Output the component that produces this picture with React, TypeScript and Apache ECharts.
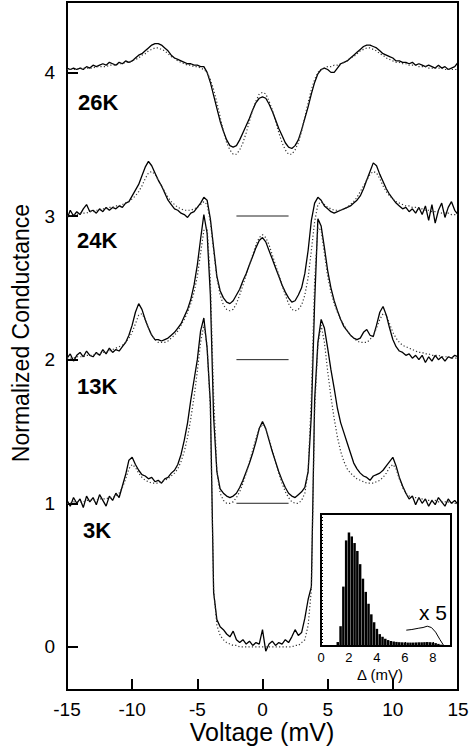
import React, { useEffect, useRef } from "react";
import * as echarts from "echarts";

// ---------- data ----------
const VOLTAGE = [
  -15, -14.75, -14.5, -14.25, -14, -13.75, -13.5, -13.25, -13, -12.75, -12.5, -12.25,
  -12, -11.75, -11.5, -11.25, -11, -10.75, -10.5, -10.25, -10, -9.75, -9.5, -9.25,
  -9, -8.75, -8.5, -8.25, -8, -7.75, -7.5, -7.25, -7, -6.75, -6.5, -6.25,
  -6, -5.75, -5.5, -5.25, -5, -4.75, -4.5, -4.25, -4, -3.75, -3.5, -3.25,
  -3, -2.75, -2.5, -2.25, -2, -1.75, -1.5, -1.25, -1, -0.75, -0.5, -0.25,
  0, 0.25, 0.5, 0.75, 1, 1.25, 1.5, 1.75, 2, 2.25, 2.5, 2.75,
  3, 3.25, 3.5, 3.75, 4, 4.25, 4.5, 4.75, 5, 5.25, 5.5, 5.75,
  6, 6.25, 6.5, 6.75, 7, 7.25, 7.5, 7.75, 8, 8.25, 8.5, 8.75,
  9, 9.25, 9.5, 9.75, 10, 10.25, 10.5, 10.75, 11, 11.25, 11.5, 11.75,
  12, 12.25, 12.5, 12.75, 13, 13.25, 13.5, 13.75, 14, 14.25, 14.5, 14.75, 15,
];

// 26K (offset +3)
const G26_EXP = [
  4.03, 4.02, 4.03, 4.02, 4.03, 4.02, 4.04, 4.03, 4.05, 4.04, 4.05, 4.06,
  4.05, 4.07, 4.06, 4.05, 4.07, 4.06, 4.08, 4.07, 4.08, 4.10, 4.12, 4.13,
  4.15, 4.17, 4.19, 4.20, 4.20, 4.19, 4.17, 4.15, 4.12, 4.10, 4.09, 4.08,
  4.07, 4.06, 4.06, 4.05, 4.05, 4.04, 4.04, 4.00, 3.93, 3.84, 3.75, 3.66,
  3.59, 3.53, 3.49, 3.48, 3.49, 3.53, 3.58, 3.63, 3.68, 3.74, 3.79, 3.82,
  3.83, 3.82, 3.78, 3.73, 3.67, 3.61, 3.56, 3.51, 3.48, 3.47, 3.49, 3.53,
  3.60, 3.68, 3.76, 3.85, 3.93, 3.99, 4.02, 4.03, 4.02, 4.00, 4.00, 4.03,
  4.06, 4.07, 4.08, 4.10, 4.12, 4.14, 4.16, 4.18, 4.19, 4.19, 4.18, 4.17,
  4.15, 4.13, 4.12, 4.11, 4.10, 4.08, 4.08, 4.07, 4.07, 4.06, 4.07, 4.05,
  4.06, 4.05, 4.04, 4.05, 4.04, 4.03, 4.05, 4.03, 4.04, 4.02, 4.03, 4.04, 4.07,
];
const G26_FIT = [
  4.02, 4.02, 4.02, 4.02, 4.03, 4.03, 4.03, 4.03, 4.03, 4.04, 4.04, 4.04,
  4.04, 4.05, 4.05, 4.05, 4.06, 4.06, 4.07, 4.07, 4.08, 4.09, 4.10, 4.12,
  4.13, 4.15, 4.16, 4.17, 4.17, 4.16, 4.15, 4.13, 4.11, 4.10, 4.08, 4.07,
  4.06, 4.05, 4.05, 4.04, 4.04, 4.03, 4.02, 4.00, 3.95, 3.88, 3.79, 3.69,
  3.59, 3.51, 3.46, 3.43, 3.43, 3.46, 3.51, 3.58, 3.66, 3.74, 3.80, 3.85,
  3.86, 3.85, 3.80, 3.74, 3.66, 3.58, 3.51, 3.46, 3.43, 3.43, 3.46, 3.51,
  3.59, 3.69, 3.79, 3.88, 3.95, 4.00, 4.02, 4.03, 4.04, 4.04, 4.05, 4.05,
  4.06, 4.07, 4.08, 4.10, 4.11, 4.13, 4.15, 4.16, 4.17, 4.17, 4.16, 4.15,
  4.13, 4.12, 4.10, 4.09, 4.08, 4.07, 4.07, 4.06, 4.06, 4.05, 4.05, 4.05,
  4.04, 4.04, 4.04, 4.03, 4.03, 4.03, 4.03, 4.03, 4.02, 4.02, 4.02, 4.02, 4.02,
];

// 24K (offset +2)
const G24_EXP = [
  2.98, 3.04, 3.00, 3.03, 3.01, 3.05, 3.08, 3.03, 3.04, 3.02, 3.05, 3.03,
  3.06, 3.04, 3.06, 3.05, 3.07, 3.06, 3.09, 3.10, 3.14, 3.18, 3.22, 3.28,
  3.34, 3.38, 3.35, 3.30, 3.25, 3.21, 3.16, 3.11, 3.08, 3.05, 3.04, 3.02,
  3.01, 2.99, 3.02, 3.03, 3.06, 3.09, 3.13, 3.11, 2.98, 2.78, 2.58, 2.48,
  2.43, 2.40, 2.39, 2.41, 2.45, 2.49, 2.55, 2.60, 2.66, 2.72, 2.78, 2.83,
  2.85, 2.82, 2.76, 2.70, 2.64, 2.58, 2.52, 2.47, 2.43, 2.40, 2.41, 2.45,
  2.50, 2.60, 2.76, 2.97, 3.09, 3.13, 3.11, 3.07, 3.05, 3.03, 3.02, 3.03,
  3.04, 3.05, 3.06, 3.07, 3.09, 3.11, 3.14, 3.19, 3.25, 3.31, 3.37, 3.35,
  3.29, 3.24, 3.19, 3.15, 3.12, 3.09, 3.07, 3.05, 3.06, 3.03, 3.05, 3.02,
  3.06, 3.01, 3.07, 2.97, 3.08, 2.95, 3.04, 3.09, 2.99, 3.06, 3.10, 3.04, 3.01,
];
const G24_FIT = [
  3.00, 3.00, 3.01, 3.01, 3.02, 3.02, 3.02, 3.03, 3.03, 3.04, 3.04, 3.05,
  3.05, 3.06, 3.06, 3.07, 3.07, 3.08, 3.09, 3.10, 3.12, 3.14, 3.17, 3.21,
  3.26, 3.30, 3.31, 3.29, 3.25, 3.21, 3.17, 3.13, 3.10, 3.08, 3.06, 3.05,
  3.04, 3.04, 3.04, 3.05, 3.06, 3.08, 3.10, 3.08, 2.96, 2.76, 2.57, 2.45,
  2.38, 2.35, 2.34, 2.35, 2.39, 2.45, 2.52, 2.59, 2.66, 2.73, 2.80, 2.85,
  2.87, 2.85, 2.80, 2.73, 2.66, 2.59, 2.52, 2.45, 2.39, 2.35, 2.34, 2.35,
  2.38, 2.45, 2.57, 2.76, 2.96, 3.08, 3.10, 3.08, 3.06, 3.05, 3.04, 3.04,
  3.04, 3.05, 3.06, 3.08, 3.10, 3.13, 3.17, 3.21, 3.25, 3.29, 3.31, 3.30,
  3.26, 3.21, 3.17, 3.14, 3.12, 3.10, 3.09, 3.08, 3.07, 3.07, 3.06, 3.06,
  3.05, 3.05, 3.04, 3.04, 3.03, 3.03, 3.03, 3.02, 3.02, 3.02, 3.01, 3.01, 3.01,
];

// 13K (offset +1)
const G13_EXP = [
  2.01, 2.04, 1.99, 2.03, 2.05, 2.02, 2.06, 2.03, 2.02, 2.05, 2.03, 2.07,
  2.04, 2.08, 2.05, 2.07, 2.06, 2.09, 2.12, 2.17, 2.24, 2.33, 2.39, 2.35,
  2.28, 2.22, 2.17, 2.14, 2.14, 2.13, 2.14, 2.15, 2.17, 2.19, 2.22, 2.25,
  2.30, 2.35, 2.42, 2.52, 2.66, 2.84, 3.01, 2.88, 2.45, 1.60, 1.22, 1.10,
  1.07, 1.05, 1.04, 1.05, 1.07, 1.11, 1.16, 1.22, 1.28, 1.35, 1.43, 1.52,
  1.57, 1.52, 1.44, 1.36, 1.29, 1.22, 1.16, 1.11, 1.07, 1.05, 1.04, 1.06,
  1.08, 1.11, 1.22, 1.62, 2.40, 2.98, 2.93, 2.78, 2.62, 2.50, 2.41, 2.34,
  2.28, 2.23, 2.20, 2.17, 2.15, 2.14, 2.15, 2.19, 2.21, 2.17, 2.16, 2.24,
  2.33, 2.37, 2.31, 2.22, 2.14, 2.09, 2.06, 2.05, 2.03, 2.04, 2.01, 2.03,
  2.00, 2.03, 1.98, 2.02, 1.99, 2.03, 2.00, 2.02, 1.99, 2.02, 2.01, 2.03, 2.02,
];
const G13_FIT = [
  2.01, 2.01, 2.01, 2.02, 2.02, 2.02, 2.03, 2.03, 2.03, 2.04, 2.04, 2.05,
  2.05, 2.06, 2.07, 2.08, 2.09, 2.10, 2.12, 2.15, 2.19, 2.25, 2.31, 2.32,
  2.28, 2.22, 2.17, 2.14, 2.12, 2.12, 2.12, 2.13, 2.15, 2.17, 2.20, 2.24,
  2.28, 2.33, 2.39, 2.47, 2.58, 2.74, 2.90, 2.92, 2.55, 1.75, 1.22, 1.07,
  1.02, 1.00, 1.00, 1.01, 1.04, 1.08, 1.14, 1.21, 1.29, 1.37, 1.45, 1.52,
  1.55, 1.52, 1.45, 1.37, 1.29, 1.21, 1.14, 1.08, 1.04, 1.01, 1.00, 1.00,
  1.02, 1.07, 1.22, 1.75, 2.55, 2.92, 2.90, 2.74, 2.58, 2.47, 2.39, 2.33,
  2.28, 2.24, 2.20, 2.17, 2.15, 2.13, 2.12, 2.12, 2.12, 2.14, 2.17, 2.22,
  2.28, 2.32, 2.31, 2.25, 2.19, 2.15, 2.12, 2.10, 2.09, 2.08, 2.07, 2.06,
  2.05, 2.05, 2.04, 2.04, 2.03, 2.03, 2.03, 2.02, 2.02, 2.02, 2.01, 2.01, 2.01,
];

// 3K (offset 0)
const G3_EXP = [
  1.02, 0.98, 1.04, 1.00, 1.03, 0.97, 1.05, 1.01, 1.04, 0.99, 1.06, 1.02,
  0.98, 1.05, 1.02, 1.07, 1.04, 1.12, 1.20, 1.30, 1.32, 1.27, 1.23, 1.20,
  1.19, 1.17, 1.18, 1.15, 1.16, 1.14, 1.17, 1.18, 1.21, 1.23, 1.27, 1.34,
  1.44, 1.56, 1.72, 1.86, 2.00, 2.20, 2.29, 2.08, 1.70, 0.38, 0.19, 0.14,
  0.12, 0.09, 0.07, 0.11, 0.05, 0.03, 0.05, 0.02, 0.04, 0.01, 0.03, 0.02,
  0.12, -0.03, 0.02, 0.04, 0.01, 0.03, 0.02, 0.05, 0.03, 0.07, 0.12, 0.08,
  0.10, 0.20, 0.33, 0.42, 1.72, 2.12, 2.28, 2.22, 2.08, 1.93, 1.80, 1.66,
  1.56, 1.49, 1.42, 1.35, 1.28, 1.24, 1.21, 1.19, 1.18, 1.16, 1.19, 1.20,
  1.21, 1.23, 1.26, 1.29, 1.32, 1.26, 1.18, 1.12, 1.07, 1.03, 1.05, 0.99,
  1.04, 1.00, 1.03, 0.98, 1.02, 0.99, 1.04, 1.01, 0.98, 1.03, 1.00, 1.02, 0.99,
];
const G3_FIT = [
  1.00, 1.00, 1.01, 1.01, 1.01, 1.01, 1.02, 1.02, 1.02, 1.02, 1.03, 1.03,
  1.03, 1.04, 1.04, 1.05, 1.07, 1.11, 1.17, 1.24, 1.27, 1.25, 1.21, 1.18,
  1.16, 1.15, 1.14, 1.14, 1.14, 1.15, 1.16, 1.17, 1.19, 1.21, 1.24, 1.29,
  1.36, 1.46, 1.59, 1.74, 1.92, 2.12, 2.24, 2.10, 1.65, 0.40, 0.15, 0.08,
  0.05, 0.03, 0.02, 0.01, 0.01, 0.00, 0.00, 0.00, 0.00, 0.00, 0.00, 0.00,
  0.00, 0.00, 0.00, 0.00, 0.00, 0.00, 0.00, 0.00, 0.00, 0.00, 0.01, 0.01,
  0.03, 0.05, 0.15, 0.40, 1.65, 2.10, 2.24, 2.12, 1.92, 1.74, 1.59, 1.46,
  1.36, 1.29, 1.24, 1.21, 1.19, 1.17, 1.16, 1.15, 1.14, 1.14, 1.14, 1.15,
  1.16, 1.18, 1.21, 1.25, 1.27, 1.24, 1.17, 1.11, 1.07, 1.05, 1.04, 1.04,
  1.03, 1.03, 1.02, 1.02, 1.02, 1.02, 1.01, 1.01, 1.01, 1.01, 1.00, 1.00, 1.00,
];

// zero-conductance reference marks for the offset curves
const REF_LEVELS = [3, 2, 1];
const REF_SPAN = [-2, 2];

const TEMP_LABELS = ["26K", "24K", "13K", "3K"];
const Y_TICKS = [0, 1, 2, 3, 4];

// inset histogram of gap values
const HIST_DELTA = [
  1.2, 1.4, 1.6, 1.8, 2.0, 2.2, 2.4, 2.6, 2.8, 3.0, 3.2, 3.4, 3.6, 3.8, 4.0, 4.2,
  4.4, 4.6, 4.8, 5.0, 5.2, 5.4, 5.6, 5.8, 6.0, 6.2, 6.4, 6.6, 6.8, 7.0, 7.2, 7.4,
  7.6, 7.8, 8.0, 8.2, 8.4, 8.6, 8.8,
];
const HIST_COUNT = [
  0.03, 0.15, 0.45, 0.8, 0.86, 0.83, 0.78, 0.72, 0.62, 0.51, 0.41, 0.32, 0.24, 0.18, 0.13, 0.09,
  0.07, 0.055, 0.045, 0.038, 0.034, 0.031, 0.029, 0.028, 0.027, 0.026, 0.026, 0.026, 0.027, 0.028, 0.028, 0.029,
  0.03, 0.029, 0.027, 0.022, 0.016, 0.01, 0.005,
];
const X5_DELTA = [6.1, 6.5, 7.0, 7.3, 7.6, 7.9, 8.2, 8.5, 8.8];
const X5_VALUE = [0.12, 0.125, 0.135, 0.14, 0.15, 0.14, 0.105, 0.05, 0.0];

const FONT = '"Liberation Sans", Arial, Helvetica, sans-serif';

export default function App() {
  const ref = useRef<HTMLDivElement>(null);

  useEffect(() => {
    if (!ref.current) return;
    const chart = echarts.init(ref.current, null, { renderer: "svg" });

    const pairs = (ys: number[]) => VOLTAGE.map((v, i) => [v, ys[i]]);
    const exp = (name: string, ys: number[]) => ({
      name,
      type: "line",
      xAxisIndex: 0,
      yAxisIndex: 0,
      data: pairs(ys),
      symbol: "none",
      silent: true,
      z: 3,
      lineStyle: { color: "#000", width: 1.3 },
    });
    const fit = (name: string, ys: number[]) => ({
      name,
      type: "line",
      xAxisIndex: 0,
      yAxisIndex: 0,
      data: pairs(ys),
      symbol: "none",
      silent: true,
      z: 4,
      lineStyle: { color: "#333", width: 1.2, type: [1.2, 2.2] },
    });

    const refSeries = REF_LEVELS.map((lv) => ({
      type: "line",
      xAxisIndex: 0,
      yAxisIndex: 0,
      data: [
        [REF_SPAN[0], lv],
        [REF_SPAN[1], lv],
      ],
      symbol: "none",
      silent: true,
      lineStyle: { color: "#222", width: 1 },
    }));

    const labelPos = [
      [78, 102],
      [77, 240],
      [77, 386],
      [83, 530],
    ];

    const option: any = {
      animation: false,
      backgroundColor: "#fff",
      textStyle: { fontFamily: FONT },
      grid: [
        {
          left: 67,
          top: 2,
          width: 391,
          height: 688,
          show: true,
          borderColor: "#000",
          borderWidth: 2,
          backgroundColor: "transparent",
        },
        {
          left: 321,
          top: 514,
          width: 130,
          height: 132,
          show: true,
          borderColor: "#000",
          borderWidth: 2,
          backgroundColor: "#fff",
          z: 5,
        },
      ],
      xAxis: [
        {
          gridIndex: 0,
          type: "value",
          min: -15,
          max: 15,
          interval: 5,
          axisLine: { show: true, onZero: false, lineStyle: { color: "#000", width: 2 } },
          axisTick: { show: true, inside: true, length: 11, lineStyle: { color: "#000", width: 2 } },
          axisLabel: { color: "#000", fontSize: 19, fontFamily: FONT, margin: 10 },
          splitLine: { show: false },
        },
        {
          gridIndex: 1,
          type: "value",
          min: 0,
          max: 9.3,
          interval: 2,
          z: 6,
          axisLine: { show: true, onZero: false, lineStyle: { color: "#000", width: 2 } },
          axisTick: { show: true, inside: true, length: 4, lineStyle: { color: "#000", width: 1 } },
          axisLabel: {
            color: "#000",
            fontSize: 13,
            fontFamily: FONT,
            margin: 5,
            showMaxLabel: false,
          },
          splitLine: { show: false },
        },
      ],
      yAxis: [
        {
          gridIndex: 0,
          type: "value",
          min: -0.3,
          max: 4.49,
          axisLine: { show: true, onZero: false, lineStyle: { color: "#000", width: 2 } },
          axisTick: {
            show: true,
            inside: true,
            length: 11,
            customValues: Y_TICKS,
            lineStyle: { color: "#000", width: 2 },
          },
          axisLabel: {
            color: "#000",
            fontSize: 19,
            fontFamily: FONT,
            margin: 12,
            customValues: Y_TICKS,
          },
          splitLine: { show: false },
        },
        {
          gridIndex: 1,
          type: "value",
          min: 0,
          max: 1,
          interval: 0.025,
          z: 6,
          axisLine: { show: true, onZero: false, lineStyle: { color: "#000", width: 2 } },
          axisTick: { show: true, inside: true, length: 2, lineStyle: { color: "#000", width: 1 } },
          axisLabel: { show: false },
          splitLine: { show: false },
        },
      ],
      series: [
        exp("26K", G26_EXP),
        fit("26K fit", G26_FIT),
        exp("24K", G24_EXP),
        fit("24K fit", G24_FIT),
        exp("13K", G13_EXP),
        fit("13K fit", G13_FIT),
        exp("3K", G3_EXP),
        fit("3K fit", G3_FIT),
        ...refSeries,
        {
          type: "bar",
          xAxisIndex: 1,
          yAxisIndex: 1,
          data: HIST_DELTA.map((d, i) => [d, HIST_COUNT[i]]),
          barWidth: 2.5,
          itemStyle: { color: "#000" },
          silent: true,
          z: 7,
        },
        {
          type: "line",
          xAxisIndex: 1,
          yAxisIndex: 1,
          data: X5_DELTA.map((d, i) => [d, X5_VALUE[i]]),
          symbol: "none",
          silent: true,
          z: 7,
          lineStyle: { color: "#000", width: 1 },
        },
      ],
      graphic: [
        ...TEMP_LABELS.map((t, i) => ({
          type: "text",
          x: labelPos[i][0],
          y: labelPos[i][1],
          z: 10,
          style: {
            text: t,
            font: `bold 22px ${FONT}`,
            fill: "#000",
            textAlign: "left",
            textVerticalAlign: "middle",
          },
        })),
        {
          type: "text",
          x: 262,
          y: 732,
          z: 10,
          style: {
            text: "Voltage (mV)",
            font: `25px ${FONT}`,
            fill: "#000",
            textAlign: "center",
            textVerticalAlign: "middle",
          },
        },
        {
          type: "text",
          x: 21,
          y: 333,
          rotation: Math.PI / 2,
          z: 10,
          style: {
            text: "Normalized Conductance",
            font: `23px ${FONT}`,
            fill: "#000",
            textAlign: "center",
            textVerticalAlign: "middle",
          },
        },
        {
          type: "text",
          x: 380,
          y: 674,
          z: 10,
          style: {
            text: "\u0394 (mV)",
            font: `15px ${FONT}`,
            fill: "#000",
            textAlign: "center",
            textVerticalAlign: "middle",
          },
        },
        {
          type: "text",
          x: 433,
          y: 612,
          z: 10,
          style: {
            text: "x 5",
            font: `21px ${FONT}`,
            fill: "#000",
            textAlign: "center",
            textVerticalAlign: "middle",
          },
        },
      ],
    };

    chart.setOption(option);
    return () => chart.dispose();
  }, []);

  return (
    <div
      ref={ref}
      style={{ position: "absolute", left: 0, top: 0, width: 472, height: 749, background: "#fff" }}
    />
  );
}
